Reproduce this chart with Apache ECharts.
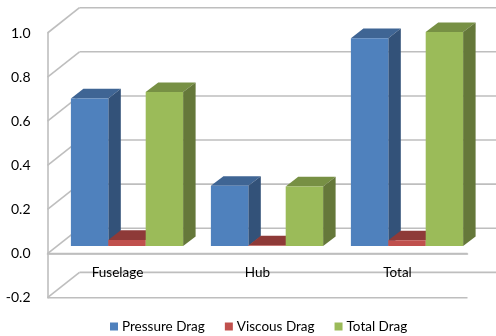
<!DOCTYPE html>
<html>
<head>
<meta charset="utf-8">
<style>html,body{margin:0;padding:0;background:#fff}#chart{width:496px;height:336px}</style>
<script src="https://cdn.jsdelivr.net/npm/echarts@6/dist/echarts.min.js"></script>
</head>
<body>
<div id="chart"></div>
<script>
const categories = ['Fuselage', 'Hub', 'Total'];
const pressureDrag = [0.669, 0.273, 0.942];
const viscousDrag = [0.028, 0.003, 0.026];
const totalDrag = [0.698, 0.270, 0.970];
const gridTicks = [-0.2, 0, 0.2, 0.4, 0.6, 0.8, 1.0];

// Oblique projection: pixel shift of the back wall, the bar rows and one bar's depth
const WALL = { dx: 32, dy: -25.3 };
const ROW = { dx: 9.5, dy: -7.5 };
const DEPTH = { dx: 12.5, dy: -9.7 };
const BAR_SHARE = 37.4 / 140;
const GRID_COLOR = '#bebebe';
const TEXT_COLOR = '#000000';

function line(x1, y1, x2, y2) {
  return {
    type: 'line',
    shape: { x1, y1, x2, y2 },
    style: { stroke: GRID_COLOR, lineWidth: 1.6, fill: null }
  };
}

// Left wall diagonal and back wall line for one tick, front edge for the lower two
function renderWall(params, api) {
  const v = api.value(0);
  const band = api.size([1, 0])[0];
  const mid = api.coord([1, v]);
  const left = mid[0] - band * 1.5;
  const right = mid[0] + band * 1.5;
  const y = mid[1];
  const children = [
    line(left, y, left + WALL.dx, y + WALL.dy),
    line(left + WALL.dx, y + WALL.dy, right + WALL.dx, y + WALL.dy)
  ];
  if (v <= 0) children.push(line(left, y, right, y));
  return { type: 'group', children };
}

function polygon(points, fill) {
  return { type: 'polygon', shape: { points }, style: { fill, stroke: null } };
}

// One extruded bar: front face, then top and right side faces
function barRenderer(slot, colors) {
  return function (params, api) {
    const i = api.value(0);
    const v = api.value(1);
    const band = api.size([1, 0])[0];
    const w = band * BAR_SHARE;
    const base = api.coord([i, 0]);
    const top = api.coord([i, v]);
    const x0 = base[0] + ROW.dx + (slot - 1.5) * w;
    const x1 = x0 + w;
    const yb = base[1] + ROW.dy;
    const yt = top[1] + ROW.dy;
    return {
      type: 'group',
      children: [
        polygon([[x0, yt], [x1, yt], [x1 + DEPTH.dx, yt + DEPTH.dy], [x0 + DEPTH.dx, yt + DEPTH.dy]], colors.top),
        polygon([[x1, yb], [x1 + DEPTH.dx, yb + DEPTH.dy], [x1 + DEPTH.dx, yt + DEPTH.dy], [x1, yt]], colors.side),
        polygon([[x0, yb], [x1, yb], [x1, yt], [x0, yt]], colors.front)
      ]
    };
  };
}

function barSeries(name, values, slot, colors) {
  return {
    name,
    type: 'custom',
    renderItem: barRenderer(slot, colors),
    data: values.map((v, i) => [i, v]),
    encode: { x: 0, y: 1 },
    itemStyle: { color: colors.front },
    clip: false,
    z: 3
  };
}

const chart = echarts.init(document.getElementById('chart'), null, { renderer: 'canvas' });
chart.setOption({
  animation: false,
  backgroundColor: '#ffffff',
  textStyle: { fontFamily: 'Lato', color: TEXT_COLOR },
  grid: { left: 47.5, right: 28.5, top: 33, bottom: 38.3 },
  legend: {
    data: ['Pressure Drag', 'Viscous Drag', 'Total Drag'],
    left: 110,
    top: 319.5,
    itemWidth: 8,
    itemHeight: 8,
    itemGap: 20,
    icon: 'rect',
    textStyle: { fontFamily: 'Lato', fontSize: 13.5, color: TEXT_COLOR, padding: [0, 0, 0, -1] },
    padding: 0
  },
  xAxis: {
    type: 'category',
    data: categories,
    offset: -44.1,
    axisLine: { show: true, onZero: false, lineStyle: { color: GRID_COLOR, width: 1.6 } },
    axisTick: { show: false },
    axisLabel: { fontFamily: 'Lato', fontSize: 13.5, color: TEXT_COLOR, margin: 12 },
    z: 5
  },
  yAxis: {
    type: 'value',
    min: -0.2,
    max: 1.0,
    interval: 0.2,
    splitLine: { show: false },
    axisTick: { show: false },
    axisLine: { show: true, lineStyle: { color: GRID_COLOR, width: 1.6 } },
    axisLabel: {
      fontFamily: 'Lato',
      fontSize: 14,
      color: TEXT_COLOR,
      margin: 17,
      formatter: (v) => v.toFixed(1)
    }
  },
  series: [
    {
      type: 'custom',
      name: 'Walls',
      renderItem: renderWall,
      data: gridTicks.map((v) => [v]),
      encode: { y: 0 },
      silent: true,
      clip: false,
      z: 1
    },
    barSeries('Pressure Drag', pressureDrag, 0, { front: '#4f81bd', top: '#3f6594', side: '#335279' }),
    barSeries('Viscous Drag', viscousDrag, 1, { front: '#c0504d', top: '#8e3a38', side: '#7a312f' }),
    barSeries('Total Drag', totalDrag, 2, { front: '#9bbb59', top: '#779044', side: '#65783a' })
  ]
});
</script>
</body>
</html>
